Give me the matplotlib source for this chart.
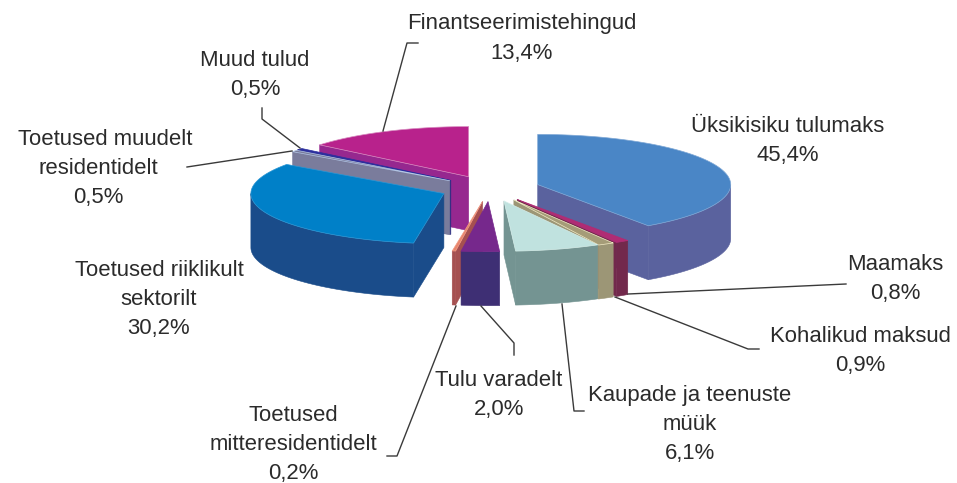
import numpy as np
import matplotlib as mpl

mpl.use('Agg')

import matplotlib.pyplot as plt
from matplotlib.patches import Polygon

plt.rcParams['font.family'] = ['Liberation Sans', 'DejaVu Sans']

# 数据
labels = [
    "Üksikisiku tulumaks",
    "Maamaks",
    "Kohalikud maksud",
    "Kaupade ja teenuste\nmüük",
    "Tulu varadelt",
    "Toetused\nmitteresidentidelt",
    "Toetused riiklikult\nsektorilt",
    "Toetused muudelt\nresidentidelt",
    "Muud tulud",
    "Finantseerimistehingud",
]
values = [45.4, 0.8, 0.9, 6.1, 2.0, 0.2, 30.2, 0.5, 0.5, 13.4]

top_colors = ["#4A86C6", "#B02C74", "#A59C78", "#C0E2DF", "#76288C",
              "#E8856C", "#0080C8", "#7A7C9C", "#2C2F9E", "#B8228C"]
side_colors = ["#5A629E", "#72294C", "#9C9676", "#749492", "#3E2F74",
               "#A55050", "#1A4C8A", "#7A7C9C", "#2A2A80", "#96288F"]
# 顶面边缘高光
edge_colors = ["#7FA8D6", "#B02C74", "#F4F0C8", "#D4EDEA", "#76288C",
               "#F09A84", "#2B96D4", "#B4C8E6", "#2C2F9E", "#D88CC0"]

# 透视校正：真实角度 -> 画面上的椭圆参数角
warp_in = [0, 163.4, 166.3, 169.6, 191.5, 198.7, 199.4, 308.2, 310.0, 311.8, 360]
warp_out = [0, 145, 149, 154, 176.5, 188, 189, 305.5, 307.5, 309.5, 360]
# 个别扇区起始角微调
start_fix = {3: 151}

# 几何参数（像素）
cx, cy = 490, 188.5
R = 193
k = 0.26
explode = 50
depth = 54

# 从后往前画
draw_order = [9, 8, 7, 6, 0, 1, 2, 3, 5, 4]

# 标签中心位置与引线
label_pos = [(788, 139), (895, 277), (860, 348), (690, 422), (499, 392),
             (293, 442), (159, 297), (98.5, 166), (255, 72), (522, 36)]
line_step = 29
first_line_dx = {7: 6.5}
leaders = [
    None,
    [(628, 294), (846, 284)],
    [(615, 297), (748, 349), (759, 349)],
    [(562, 304), (574, 411), (584, 411)],
    [(481, 306), (514, 343), (514, 355)],
    [(456, 306), (397, 456), (387, 456)],
    None,
    [(292, 151), (187, 167)],
    [(300, 148), (262, 119), (262, 108)],
    [(383, 131), (407, 43), (418, 43)],
]

fig = plt.figure(figsize=(9.57, 4.83), dpi=100)
ax = fig.add_axes([0, 0, 1, 1])
ax.set_xlim(0, 957)
ax.set_ylim(483, 0)
ax.axis("off")

edges = np.cumsum([0] + values) / sum(values) * 360
shown = np.interp(edges, warp_in, warp_out)


def rim(tip, t):
    a = np.radians(t)
    return np.column_stack([tip[0] + R * np.sin(a), tip[1] - R * k * np.cos(a)])


def face(pts, color, edge=None, lw=0.4):
    ax.add_patch(Polygon(pts, closed=True, fc=color, ec=edge or color, lw=lw))


for i in draw_order:
    a, b = start_fix.get(i, shown[i]), shown[i + 1]
    mid = np.radians((a + b) / 2)
    tip = np.array([cx + explode * np.sin(mid), cy - explode * k * np.cos(mid)])
    drop = np.array([0, depth])

    # 切面
    if np.sin(np.radians(a)) < 0:
        p = rim(tip, a)[0]
        face([tip, p, p + drop, tip + drop], side_colors[i])
    if np.sin(np.radians(b)) > 0:
        p = rim(tip, b)[0]
        face([tip, p, p + drop, tip + drop], side_colors[i])

    # 外侧弧面，只画朝前的部分
    lo, hi = max(a, 90), min(b, 270)
    if hi > lo:
        arc = rim(tip, np.linspace(lo, hi, 60))
        face(np.vstack([arc, (arc + drop)[::-1]]), side_colors[i])

    # 顶面
    arc = rim(tip, np.linspace(a, b, 120))
    face(np.vstack([tip, arc]), top_colors[i], edge=edge_colors[i], lw=0.5)

for i, name in enumerate(labels):
    x, y = label_pos[i]
    pct = f"{values[i]:.1f}%".replace(".", ",")
    lines = (name + "\n" + pct).split("\n")
    for j, line in enumerate(lines):
        dx = first_line_dx.get(i, 0) if j == 0 else 0
        base = y + (j - (len(lines) - 1) / 2) * line_step + 8
        ax.text(x + dx, base, line, ha="center", va="baseline", fontsize=15.9,
                color="#2B2B2B")
    if leaders[i] is not None:
        xs, ys = zip(*leaders[i])
        ax.plot(xs, ys, color="#3A3A3A", lw=1.0)

fig.savefig("out.png", dpi=100)
